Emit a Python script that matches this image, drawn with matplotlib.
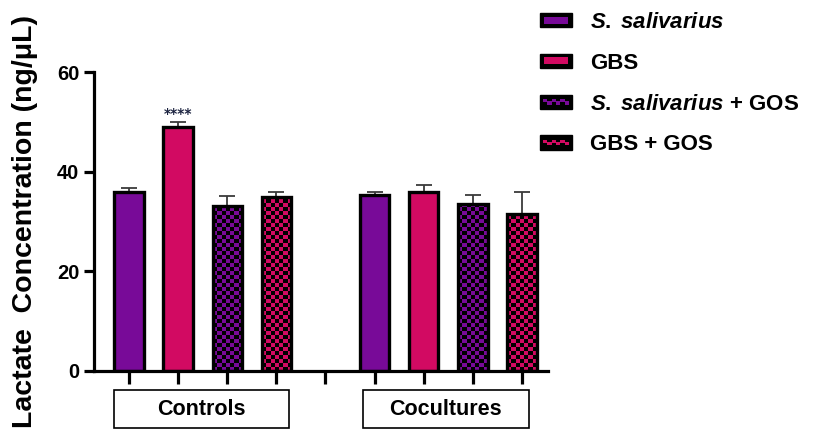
import numpy as np
import matplotlib
matplotlib.use("Agg")
import matplotlib.pyplot as plt
from matplotlib.colors import ListedColormap
from matplotlib.patches import Rectangle
from matplotlib.legend_handler import HandlerBase

plt.rcParams['font.family'] = ['Liberation Sans', 'DejaVu Sans']
plt.rcParams['mathtext.fontset'] = 'custom'
plt.rcParams['mathtext.rm'] = 'Liberation Sans:bold'
plt.rcParams['mathtext.bf'] = 'Liberation Sans:bold'
plt.rcParams['mathtext.it'] = 'Liberation Sans:bold:italic'
plt.rcParams['mathtext.bfit'] = 'Liberation Sans:bold:italic'

# Data
groups = ["Controls", "Cocultures"]
series = ["S. salivarius", "GBS", "S. salivarius + GOS", "GBS + GOS"]
series_labels = [r"$\it{S.\;salivarius}$", "GBS",
                 r"$\it{S.\;salivarius}$ + GOS", "GBS + GOS"]
controls_mean = [36.0, 49.0, 33.2, 35.0]
controls_sem = [0.7, 0.9, 1.9, 0.9]
cocultures_mean = [35.3, 36.0, 33.5, 31.6]
cocultures_sem = [0.7, 1.3, 1.9, 4.4]
significance = ["", "****", "", ""]
yticks = [0, 20, 40, 60]

purple = "#780A98"
magenta = "#D20A62"
fills = [purple, magenta, purple, magenta]
checkered = [False, False, True, True]

fig = plt.figure(figsize=(8.17, 4.33), dpi=100)
ax = fig.add_axes([94 / 817, 62 / 433, 454 / 817, 299 / 433])

positions = [0, 1, 2, 3, 5, 6, 7, 8]
means = controls_mean + cocultures_mean
sems = controls_sem + cocultures_sem
bar_w = 0.6
cell_x = 0.082
cell_y = 0.8

for i, (x, m, s) in enumerate(zip(positions, means, sems)):
    k = i % 4
    ax.errorbar(x, m, yerr=[[0], [s]], fmt='none', ecolor='#3a3a3a',
                elinewidth=1.3, capsize=6, capthick=1.3, zorder=2)
    if checkered[k]:
        bg = ax.bar(x, m, width=bar_w, color=fills[k], edgecolor='none', zorder=3)[0]
        nx = max(1, int(round(bar_w / cell_x)))
        ny = max(1, int(round(m / cell_y)))
        grid = (np.add.outer(np.arange(ny), np.arange(nx)) % 2).astype(float)
        img = ax.imshow(grid, cmap=ListedColormap([fills[k], 'black']),
                        extent=(x - bar_w / 2, x + bar_w / 2, 0, ny * cell_y),
                        origin='lower', interpolation='nearest', aspect='auto',
                        zorder=3.5)
        img.set_clip_path(bg)
        ax.bar(x, m, width=bar_w, facecolor='none', edgecolor='black',
               linewidth=2.4, zorder=4)
    else:
        ax.bar(x, m, width=bar_w, color=fills[k], edgecolor='black',
               linewidth=2.4, zorder=4)

for x, m, s, lab in zip(positions[:4], controls_mean, controls_sem, significance):
    if lab:
        ax.text(x, m + s + 0.9, lab, ha='center', va='baseline', fontsize=10,
                fontweight='bold', color='#1c2340', family='DejaVu Sans')

ax.set_xlim(-0.713, 8.53)
ax.set_ylim(0, 60)
ax.set_yticks(yticks)
ax.set_yticklabels([str(t) for t in yticks], fontsize=14.5, fontweight='bold')
ax.set_xticks(range(9))
ax.set_xticklabels([])
ax.tick_params(axis='y', length=7.5, width=2.3, pad=3)
ax.tick_params(axis='x', length=9, width=2.3)
for side in ('top', 'right'):
    ax.spines[side].set_visible(False)
for side in ('left', 'bottom'):
    ax.spines[side].set_linewidth(2.3)
ax.spines['bottom'].set_zorder(5)

fig.text(25 / 817, 1 - 222 / 433, "Lactate  Concentration (ng/\u03bcL)",
         rotation=90, ha='center', va='center', fontsize=20.5, fontweight='bold')

# Group boxes under the axis
trans = ax.get_xaxis_transform()
for centre, width, name in zip([1.48, 6.45], [3.56, 3.38], groups):
    ax.add_patch(Rectangle((centre - width / 2, -0.064), width, -0.127,
                           transform=trans, facecolor='white', edgecolor='black',
                           linewidth=1.2, clip_on=False))
    ax.text(centre, -0.1275, name, transform=trans, ha='center', va='center',
            fontsize=15.5, fontweight='bold')


class SwatchHandler(HandlerBase):
    def __init__(self, color, checker):
        super().__init__()
        self.color = color
        self.checker = checker

    def create_artists(self, legend, orig_handle, xdescent, ydescent, width,
                       height, fontsize, trans):
        arts = [Rectangle((-xdescent, -ydescent), width, height,
                          facecolor='black', edgecolor='black', transform=trans)]
        if self.checker:
            n = 6
            w = width * 0.8 / n
            for j in range(n):
                yy = -ydescent + height * (0.3 if j % 2 else 0.45)
                arts.append(Rectangle((-xdescent + width * 0.1 + j * w, yy),
                                      w, height * 0.22, facecolor=self.color,
                                      edgecolor='none', transform=trans))
        else:
            arts.append(Rectangle((-xdescent + width * 0.12, -ydescent + height * 0.25),
                                  width * 0.76, height * 0.5, facecolor=self.color,
                                  edgecolor='none', transform=trans))
        return arts


handles = [Rectangle((0, 0), 1, 1) for _ in series]
handler_map = {h: SwatchHandler(fills[k], checkered[k]) for k, h in enumerate(handles)}
leg = fig.legend(handles, series_labels, handler_map=handler_map,
                 loc='upper left', bbox_to_anchor=(520 / 817, 1 + 8 / 433),
                 frameon=False, prop={'size': 16, 'weight': 'bold'},
                 handlelength=1.44, handleheight=0.6, handletextpad=0.8,
                 labelspacing=0.89)

fig.savefig("out.png", dpi=100)
